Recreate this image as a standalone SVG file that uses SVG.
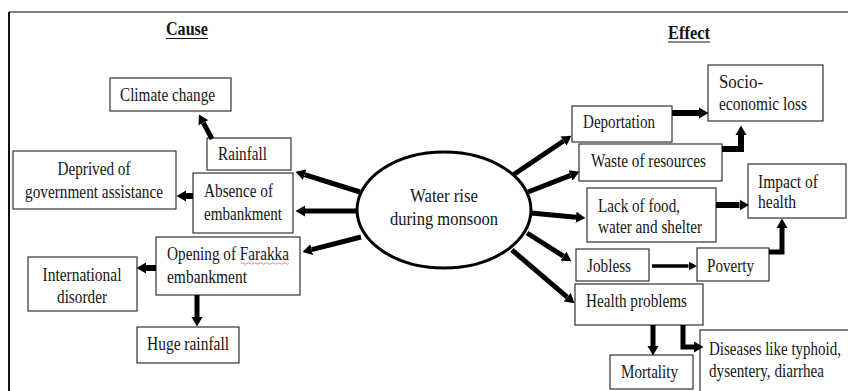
<svg xmlns="http://www.w3.org/2000/svg" width="848" height="391" viewBox="0 0 848 391">
<style>
  .box { fill: #ffffff; stroke: #333333; stroke-width: 1.2; }
  .t { font-family: "Liberation Serif", "Times New Roman", serif; font-size: 18px; fill: #151515; }
  .c { text-anchor: middle; }
  .h { font-family: "Liberation Serif", "Times New Roman", serif; font-size: 18px; font-weight: bold; fill: #151515; text-anchor: middle; }
  .a5 { fill: none; stroke: #000; stroke-width: 5; marker-end: url(#ah); }
  .a6 { fill: none; stroke: #000; stroke-width: 6; marker-end: url(#ah); }
  .a3 { fill: none; stroke: #000; stroke-width: 3.5; marker-end: url(#ahs); }
</style>
<defs>
  <marker id="ah" markerUnits="userSpaceOnUse" viewBox="0 -6 10 12" refX="0" refY="0" markerWidth="10" markerHeight="12" orient="auto">
    <path d="M0,-5.5 L9.5,0 L0,5.5 Z" fill="#000"/>
  </marker>
  <marker id="ahs" markerUnits="userSpaceOnUse" viewBox="0 -5 9 10" refX="0" refY="0" markerWidth="9" markerHeight="10" orient="auto">
    <path d="M0,-4.5 L8.5,0 L0,4.5 Z" fill="#000"/>
  </marker>
</defs>
<rect x="0" y="0" width="848" height="391" fill="#ffffff"/>
<!-- frame -->
<line x1="9" y1="12" x2="848" y2="12" stroke="#555" stroke-width="1.5"/>
<line x1="9" y1="12" x2="9" y2="391" stroke="#111" stroke-width="2"/>

<!-- headings -->
<g id="cause-heading">
  <text class="h" x="187" y="35" textLength="42" lengthAdjust="spacingAndGlyphs">Cause</text>
  <line x1="166" y1="38.5" x2="208" y2="38.5" stroke="#151515" stroke-width="1.2"/>
</g>
<g id="effect-heading">
  <text class="h" x="689" y="39" textLength="42" lengthAdjust="spacingAndGlyphs">Effect</text>
  <line x1="668" y1="42" x2="710" y2="42" stroke="#151515" stroke-width="1.2"/>
</g>

<!-- central node -->
<g id="water-rise">
  <ellipse cx="444" cy="210" rx="87" ry="58" fill="#fff" stroke="#000" stroke-width="3"/>
  <text class="t c" x="444" y="202" textLength="68" lengthAdjust="spacingAndGlyphs">Water rise</text>
  <text class="t c" x="444" y="225" textLength="108" lengthAdjust="spacingAndGlyphs">during monsoon</text>
</g>

<!-- cause nodes -->
<g id="climate-change">
  <rect class="box" x="110" y="78" width="121" height="33"/>
  <text class="t" x="120" y="101" textLength="95" lengthAdjust="spacingAndGlyphs">Climate change</text>
</g>
<g id="rainfall">
  <rect class="box" x="207" y="138" width="84" height="32"/>
  <text class="t" x="218" y="160" textLength="49" lengthAdjust="spacingAndGlyphs">Rainfall</text>
</g>
<g id="deprived">
  <rect class="box" x="13" y="151" width="163" height="58"/>
  <text class="t c" x="94" y="175" textLength="73" lengthAdjust="spacingAndGlyphs">Deprived of</text>
  <text class="t c" x="94" y="198" textLength="138" lengthAdjust="spacingAndGlyphs">government assistance</text>
</g>
<g id="absence">
  <rect class="box" x="193" y="173" width="100" height="60"/>
  <text class="t" x="204" y="197" textLength="69" lengthAdjust="spacingAndGlyphs">Absence of</text>
  <text class="t" x="204" y="220" textLength="78" lengthAdjust="spacingAndGlyphs">embankment</text>
</g>
<g id="opening-farakka">
  <rect class="box" x="156" y="237" width="144" height="58"/>
  <text class="t" x="167" y="260" textLength="122" lengthAdjust="spacingAndGlyphs">Opening of Farakka</text>
  <path d="M241,263.5 q1.5,-1.5 3,0 t3,0 t3,0 t3,0 t3,0 t3,0 t3,0 t3,0 t3,0 t3,0 t3,0 t3,0 t3,0 t3,0 t3,0 t3,0" fill="none" stroke="#e0607a" stroke-width="0.8"/>
  <text class="t" x="167" y="283" textLength="80" lengthAdjust="spacingAndGlyphs">embankment</text>
</g>
<g id="international-disorder">
  <rect class="box" x="28" y="257" width="109" height="54"/>
  <text class="t c" x="82" y="281" textLength="79" lengthAdjust="spacingAndGlyphs">International</text>
  <text class="t c" x="82" y="303" textLength="50" lengthAdjust="spacingAndGlyphs">disorder</text>
</g>
<g id="huge-rainfall">
  <rect class="box" x="137" y="327" width="102" height="36"/>
  <text class="t" x="147" y="350" textLength="82" lengthAdjust="spacingAndGlyphs">Huge rainfall</text>
</g>

<!-- effect nodes -->
<g id="deportation">
  <rect class="box" x="572" y="106" width="100" height="36"/>
  <text class="t" x="583" y="128" textLength="72" lengthAdjust="spacingAndGlyphs">Deportation</text>
</g>
<g id="socio-economic-loss">
  <rect class="box" x="708" y="65" width="115" height="56"/>
  <text class="t" x="719" y="88" textLength="44" lengthAdjust="spacingAndGlyphs">Socio-</text>
  <text class="t" x="719" y="110" textLength="88" lengthAdjust="spacingAndGlyphs">economic loss</text>
</g>
<g id="waste-of-resources">
  <rect class="box" x="579" y="144" width="143" height="37"/>
  <text class="t" x="591" y="167" textLength="115" lengthAdjust="spacingAndGlyphs">Waste of resources</text>
</g>
<g id="impact-of-health">
  <rect class="box" x="748" y="164" width="98" height="54"/>
  <text class="t" x="758" y="188" textLength="60" lengthAdjust="spacingAndGlyphs">Impact of</text>
  <text class="t" x="758" y="208" textLength="38" lengthAdjust="spacingAndGlyphs">health</text>
</g>
<g id="lack-of-food">
  <rect class="box" x="587" y="188" width="129" height="54"/>
  <text class="t" x="598" y="212" textLength="82" lengthAdjust="spacingAndGlyphs">Lack of food,</text>
  <text class="t" x="598" y="233" textLength="104" lengthAdjust="spacingAndGlyphs">water and shelter</text>
</g>
<g id="jobless">
  <rect class="box" x="576" y="249" width="73" height="32"/>
  <text class="t" x="587" y="272" textLength="44" lengthAdjust="spacingAndGlyphs">Jobless</text>
</g>
<g id="poverty">
  <rect class="box" x="697" y="248" width="72" height="33"/>
  <text class="t" x="707" y="272" textLength="47" lengthAdjust="spacingAndGlyphs">Poverty</text>
</g>
<g id="health-problems">
  <rect class="box" x="575" y="284" width="128" height="41"/>
  <text class="t" x="586" y="307" textLength="101" lengthAdjust="spacingAndGlyphs">Health problems</text>
</g>
<g id="mortality">
  <rect class="box" x="610" y="355" width="83" height="34"/>
  <text class="t" x="621" y="378" textLength="57" lengthAdjust="spacingAndGlyphs">Mortality</text>
</g>
<g id="diseases">
  <rect class="box" x="700" y="330" width="160" height="70"/>
  <text class="t" transform="translate(709,355) scale(1,1.15)" x="0" y="0" style="font-size:15.5px" textLength="132" lengthAdjust="spacingAndGlyphs">Diseases like typhoid,</text>
  <text class="t" transform="translate(709,377) scale(1,1.15)" x="0" y="0" style="font-size:15.5px" textLength="115" lengthAdjust="spacingAndGlyphs">dysentery, diarrhea</text>
</g>

<!-- connectors -->
<g id="connectors">
  <!-- causes from centre -->
  <line class="a5" x1="360" y1="192" x2="304.6" y2="174.7"/>
  <line class="a5" x1="358" y1="211" x2="305" y2="211"/>
  <line class="a5" x1="361" y1="237" x2="311.7" y2="249.7"/>
  <!-- cause sub-arrows -->
  <line class="a5" x1="212" y1="139" x2="203.4" y2="122.8"/>
  <line class="a6" x1="193" y1="196" x2="186" y2="196"/>
  <line class="a6" x1="156" y1="268" x2="146" y2="268"/>
  <line class="a5" x1="197" y1="295" x2="197" y2="317"/>
  <!-- effects from centre -->
  <line class="a5" x1="513" y1="175" x2="563.5" y2="141"/>
  <line class="a5" x1="528" y1="192" x2="570.6" y2="175.3"/>
  <line class="a5" x1="531" y1="213" x2="576" y2="217.2"/>
  <line class="a5" x1="527" y1="233" x2="563.4" y2="256.2"/>
  <line class="a5" x1="512" y1="250" x2="567.2" y2="297.2"/>
  <!-- effect sub-arrows -->
  <line class="a6" x1="672" y1="113" x2="699" y2="113"/>
  <path class="a6" d="M722,149 H741 V135"/>
  <line class="a6" x1="716" y1="205" x2="739.5" y2="205"/>
  <line class="a3" x1="652" y1="266" x2="688.5" y2="266"/>
  <path class="a5" d="M769,252 H782 V228"/>
  <line class="a5" x1="653" y1="325" x2="653" y2="346"/>
  <path class="a5" d="M683,325 V347 H694"/>
</g>
</svg>
